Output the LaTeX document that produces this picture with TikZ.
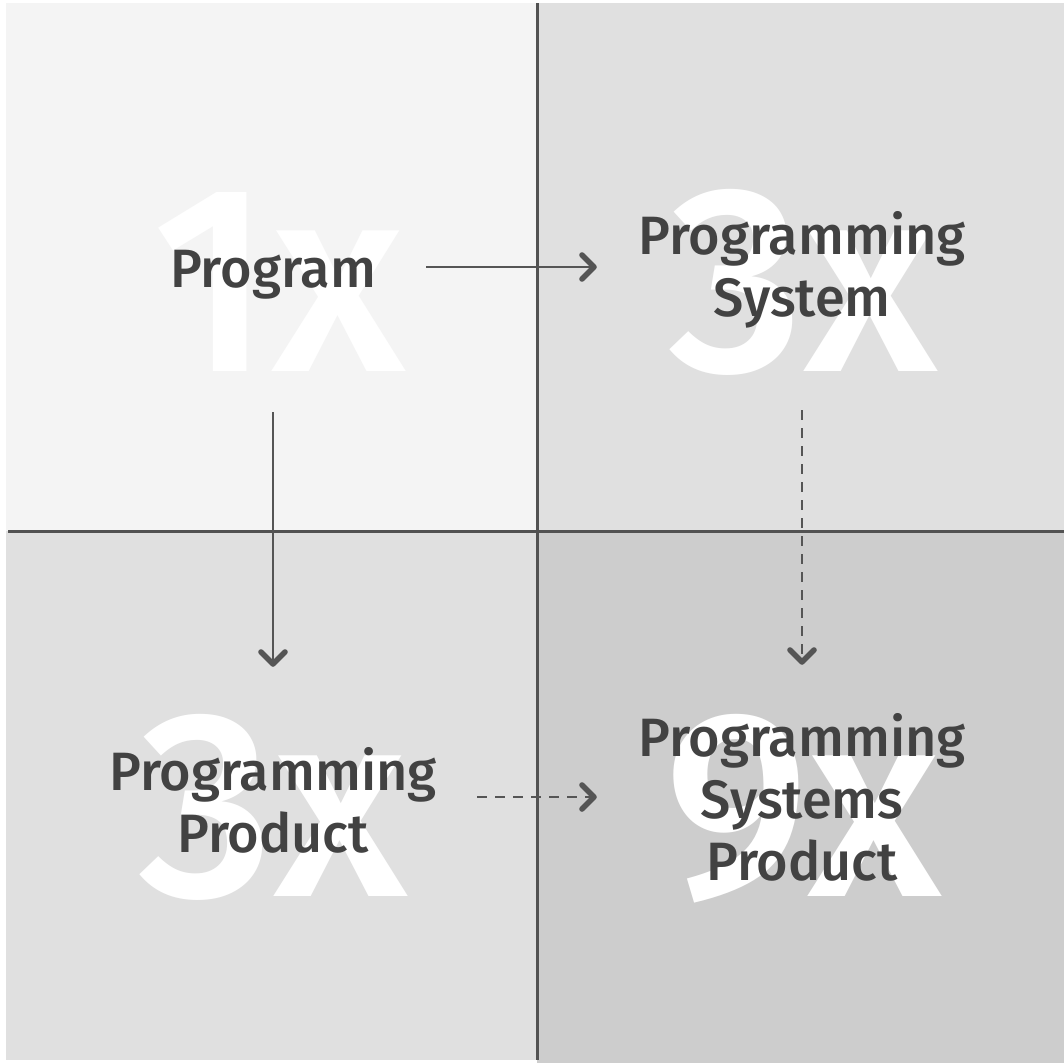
\documentclass[tikz,border=0pt]{standalone}
\usepackage{fontspec}
\setmainfont{Fira Sans}[UprightFont={* Medium}]
\usetikzlibrary{arrows.meta}
\definecolor{qone}{HTML}{F4F4F4}
\definecolor{qthree}{HTML}{E0E0E0}
\definecolor{qnine}{HTML}{CDCDCD}
\definecolor{rule}{HTML}{525252}
\definecolor{ink}{HTML}{424242}
\definecolor{wire}{HTML}{555555}
\tikzset{
  label/.style={text=ink, align=center, inner sep=0pt,
    font=\fontsize{54}{62}\selectfont},
  factor/.style={text=white, inner sep=0pt, anchor=base,
    font=\fontsize{266}{266}\selectfont},
  divider/.style={draw=rule, line width=3pt},
  chevron/.tip={Straight Barb[length=12pt,width=24pt,line width=3pt 1,round]},
  link/.style={draw=wire, line width=2.6pt, -chevron},
  dashlink/.style={link, dash pattern=on 10pt off 8pt}
}
\begin{document}
\begin{tikzpicture}[x=1pt,y=-1pt]
  \useasboundingbox (0,0) rectangle (1064,1063);
  % quadrant backgrounds
  \fill[qone]   (6,3)     rectangle (537,531);
  \fill[qthree] (537,3)   rectangle (1064,531);
  \fill[qthree] (6,531)   rectangle (537,1060);
  \fill[qnine]  (537,531) rectangle (1064,1063);
  % effort factors
  \node[factor] (f1) at (279,371) {1x};
  \node[factor] (f3a) at (803,371) {3x};
  \node[factor] (f3b) at (273,896) {3x};
  \node[factor] (f9) at (803,896) {9x};
  % dividers
  \draw[divider] (537,3) -- (537,1060);
  \draw[divider] (8,531) -- (1064,531);
  % labels
  \node[label, minimum width=306pt, minimum height=274pt] (prog) at (273,275) {Program};
  \node[label, minimum width=410pt, minimum height=280pt] (psys) at (802,270) {Programming\\System};
  \node[label, minimum width=408pt, minimum height=266pt] (pprod) at (273,800) {Programming\\Product};
  \node[label, minimum width=410pt, minimum height=264pt] (psp) at (802,797) {Programming\\Systems\\Product};
  % connectors
  \draw[link] ([yshift=8pt]prog.east) -- ([yshift=8pt]prog.east -| psys.west);
  \draw[link] (prog.south) -- (prog.south |- pprod.north);
  \draw[dashlink] (psys.south) -- (psys.south |- psp.north);
  \draw[dashlink] (pprod.east |- psp.west) -- (psp.west);
\end{tikzpicture}
\end{document}
